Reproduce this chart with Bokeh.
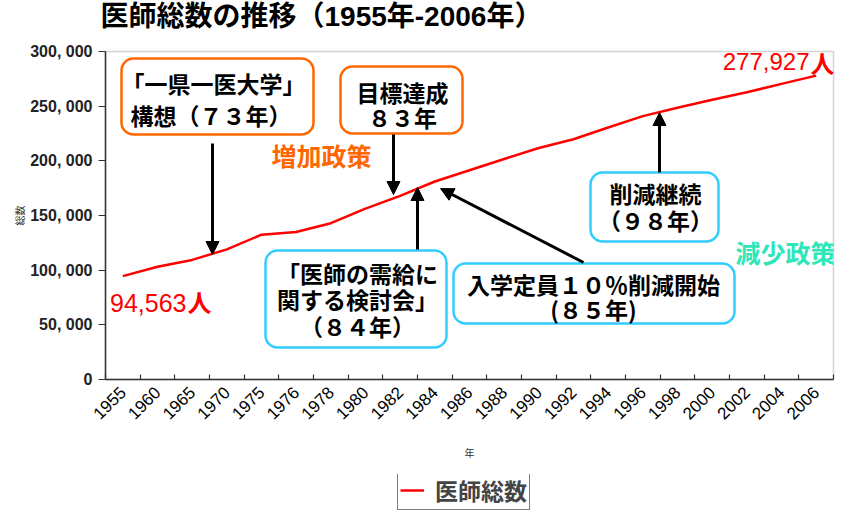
from math import pi
from bokeh.plotting import figure
from bokeh.layouts import column
from bokeh.models import (Range1d, FixedTicker, Label, Arrow, NormalHead, Title,
                          BoxAnnotation, Legend, LegendItem)
from bokeh.embed import file_html
from bokeh.resources import INLINE

# ---------------- data ----------------
years = ["1955", "1960", "1965", "1970", "1975", "1976", "1978", "1980", "1982",
         "1984", "1986", "1988", "1990", "1992", "1994", "1996", "1998", "2000",
         "2002", "2004", "2006"]
doctors = [94563, 103131, 109369, 118990, 132479, 134934, 142984, 156235, 167952,
           181101, 191346, 201658, 211797, 219704, 230519, 240908, 248611, 255792,
           262687, 270371, 277927]
y_ticks = [0, 50000, 100000, 150000, 200000, 250000, 300000]
y_tick_labels = ["0", "50, 000", "100, 000", "150, 000", "200, 000", "250, 000", "300, 000"]
series_name = "医師総数"
first_label = "94,563"
last_label = "277,927"
title_text = "医師総数の推移（1955年-2006年）"

x_idx = list(range(len(years)))

# ---------------- figure ----------------
JP = "Noto Sans CJK JP"
LAT = "Liberation Sans"
MIX = "'Liberation Sans', 'Noto Sans CJK JP'"
W, H_MAIN, H_LEG = 843, 474, 36
FL, FT, FR, FB = 105, 51, 833, 379   # frame edges in canvas pixels (annotation placement)
YMAX = 300000


def X(px):
    return (px - FL) / (FR - FL) * len(years) - 0.5


def Y(py):
    return (FB - py) / (FB - FT) * YMAX


p = figure(width=W, height=H_MAIN, output_backend="svg", toolbar_location=None,
           x_range=Range1d(-0.5, len(years) - 0.5), y_range=Range1d(0, YMAX),
           min_border_left=FL, min_border_right=W - FR, min_border_top=FT,
           min_border_bottom=H_MAIN - FB)
p.xgrid.visible = False
p.ygrid.visible = False
p.outline_line_color = "#d4d4d4"
p.outline_line_width = 1.5
p.background_fill_color = "white"
p.border_fill_color = "white"

# title (a small spacer between the title and the frame)
p.add_layout(Title(text=" ", text_font=LAT, text_font_size="8px", standoff=7,
                   align="left"), "above")
p.add_layout(Title(text=title_text, align="left", offset=-5, text_font=MIX,
                   text_font_style="bold", text_font_size="28px", standoff=0,
                   text_color="black", vertical_align="top"), "above")

xa = p.xaxis[0]
xa.ticker = FixedTicker(ticks=x_idx, minor_ticks=[i - 0.5 for i in range(len(years) + 1)])
xa.major_label_overrides = {i: y for i, y in enumerate(years)}
xa.major_label_orientation = pi / 4
xa.major_tick_line_color = None
xa.major_tick_out = 0
xa.major_tick_in = 0
xa.minor_tick_in = 5
xa.minor_tick_out = 0
xa.minor_tick_line_color = "#333333"
xa.minor_tick_line_width = 1.2
xa.axis_line_color = "#333333"
xa.axis_line_width = 1.5
xa.major_label_text_font = LAT
xa.major_label_text_font_size = "17px"
xa.major_label_text_color = "black"
xa.major_label_standoff = 10
xa.axis_label = "年"
xa.axis_label_text_font = MIX
xa.axis_label_text_font_size = "10px"
xa.axis_label_text_font_style = "normal"
xa.axis_label_text_color = "#333333"
xa.axis_label_standoff = 20

ya = p.yaxis[0]
ya.ticker = FixedTicker(ticks=y_ticks)
ya.major_label_overrides = dict(zip(y_ticks, y_tick_labels))
ya.major_tick_out = 7
ya.major_tick_in = 0
ya.major_tick_line_color = "#333333"
ya.minor_tick_line_color = None
ya.axis_line_color = "#333333"
ya.axis_line_width = 1.5
ya.major_label_standoff = 6
ya.major_label_text_font = LAT
ya.major_label_text_font_style = "bold"
ya.major_label_text_font_size = "16px"
ya.major_label_text_color = "#222222"
ya.axis_label = "総数"
ya.axis_label_text_font = JP
ya.axis_label_text_font_size = "10px"
ya.axis_label_text_font_style = "normal"
ya.axis_label_text_color = "#333333"
ya.axis_label_standoff = 0

# ---------------- data line ----------------
p.line(x_idx, doctors, line_color="#FF0000", line_width=2.5)

# ---------------- annotations ----------------
ORANGE = "#FF6600"
CYAN = "#33CCFF"
TEAL = "#2EE6B8"

boxes = [
    (121, 313, 58, 134, ORANGE),
    (340, 462, 66, 133, ORANGE),
    (265, 446, 250, 347, CYAN),
    (453, 734, 263, 323, CYAN),
    (590, 718, 172, 241, CYAN),
]
for l, rr, t, b, c in boxes:
    p.add_layout(BoxAnnotation(left=X(l), right=X(rr), top=Y(t), bottom=Y(b),
                               fill_color="white", fill_alpha=1.0,
                               line_color=c, line_width=2.5, line_alpha=1.0,
                               border_radius=12))

texts = [
    (213, 98.5, "「一県一医大学」\n 構想（７３年）", 0.96),
    (402, 104, "目標達成\n８３年", 0.75),
    (357, 299, "「医師の需給に\n関する検討会」\n（８４年）", 0.78),
    (593, 296, "入学定員１０％削減開始\n(８５年)", 0.74),
    (655, 206, "削減継続\n（９８年）", 0.81),
]
for cx, cy, t, lh in texts:
    p.add_layout(Label(x=X(cx), y=Y(cy), text=t, text_align="center",
                       text_baseline="middle", text_font=JP, text_font_style="bold",
                       text_font_size="23px", text_color="black", text_line_height=lh))

arrows = [
    (212, 143, 212, 254),
    (393, 134, 393, 194),
    (417, 249, 417, 187),
    (583, 262, 440, 188),
    (659, 172, 659, 112),
]
for x0, y0, x1, y1 in arrows:
    p.add_layout(Arrow(x_start=X(x0), y_start=Y(y0), x_end=X(x1), y_end=Y(y1),
                       line_color="black", line_width=3,
                       end=NormalHead(size=13, fill_color="black", line_color="black",
                                      line_width=1)))

p.add_layout(Label(x=X(321), y=Y(154), text="増加政策", text_align="center",
                   text_baseline="middle", text_font=JP, text_font_style="bold",
                   text_font_size="25px", text_color=ORANGE))
p.add_layout(Label(x=X(785), y=Y(251), text="減少政策", text_align="center",
                   text_baseline="middle", text_font=JP, text_font_style="bold",
                   text_font_size="25px", text_color=TEAL))

# end-point values
p.add_layout(Label(x=X(186), y=Y(302), text=first_label, text_align="right",
                   text_baseline="middle", text_font=LAT, text_font_size="25px",
                   text_color="#FF0000"))
p.add_layout(Label(x=X(187), y=Y(301), text="人", text_align="left",
                   text_baseline="middle", text_font=JP, text_font_style="bold",
                   text_font_size="24px", text_color="#FF0000"))
p.add_layout(Label(x=X(809), y=Y(61), text=last_label, text_align="right",
                   text_baseline="middle", text_font=LAT, text_font_size="24px",
                   text_color="#FF0000"))
p.add_layout(Label(x=X(810), y=Y(62), text="人", text_align="left",
                   text_baseline="middle", text_font=JP, text_font_style="bold",
                   text_font_size="24px", text_color="#FF0000"))

# ---------------- legend strip (bottom of the picture) ----------------
lf = figure(width=W, height=H_LEG, output_backend="svg", toolbar_location=None,
            x_range=Range1d(0, W), y_range=Range1d(0, H_LEG),
            x_axis_type=None, y_axis_type=None, min_border=0)
lf.outline_line_color = None
lf.xgrid.visible = False
lf.ygrid.visible = False
lf.background_fill_color = "white"
lf.border_fill_color = "white"
proxy = lf.line(x_idx, doctors, line_color="#FF0000", line_width=2.5)
legend = Legend(items=[LegendItem(label=series_name, renderers=[proxy])],
                location=(397 - FL, 0), orientation="horizontal",
                label_text_font=MIX, label_text_font_style="bold",
                label_text_font_size="23px", glyph_width=24, glyph_height=20,
                padding=2, spacing=0, margin=0, label_standoff=11,
                border_line_color="black", border_line_width=1,
                background_fill_color="white", background_fill_alpha=1.0)
lf.add_layout(legend)

page = column(p, lf, spacing=0)
open("out.html", "w").write(file_html(page, INLINE))
